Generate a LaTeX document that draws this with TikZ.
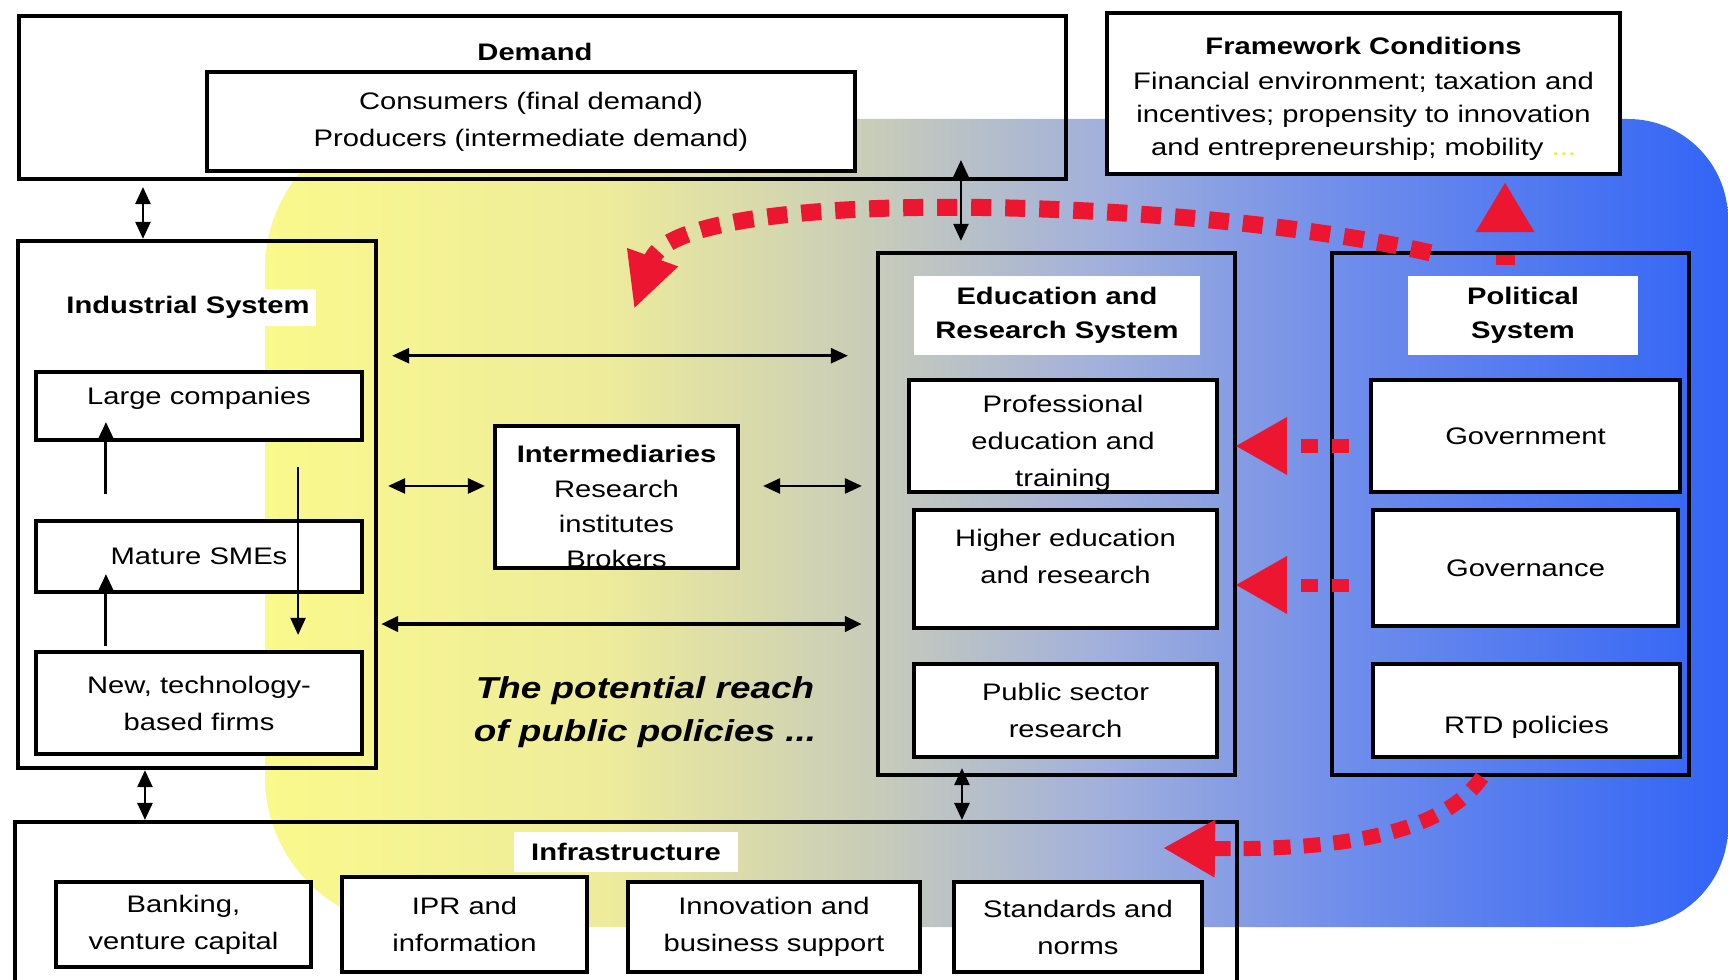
\documentclass[tikz,border=0pt]{standalone}
\usepackage{fontspec}
\setmainfont{Liberation Sans}[FakeStretch=1.22]
\usetikzlibrary{arrows.meta,calc}

\definecolor{policyred}{RGB}{236,22,48}
\definecolor{dotyellow}{RGB}{235,235,70}
\definecolor{spreadA}{RGB}{250,249,140}
\definecolor{spreadB}{RGB}{238,236,155}
\definecolor{spreadC}{RGB}{201,205,184}
\definecolor{spreadD}{RGB}{162,176,220}
\definecolor{spreadE}{RGB}{111,141,235}
\definecolor{spreadF}{RGB}{50,100,246}
\pgfdeclarehorizontalshading{spread}{100bp}{color(0bp)=(spreadA); color(25bp)=(spreadA); color(36.5bp)=(spreadB); color(45.5bp)=(spreadC); color(53.5bp)=(spreadD); color(62bp)=(spreadE); color(75bp)=(spreadF); color(100bp)=(spreadF)}

\tikzset{
  sysbox/.style={draw, line width=0.04cm, inner sep=0pt},
  itembox/.style={draw, fill=white, line width=0.04cm, inner sep=0pt, align=center},
  titlebox/.style={fill=white, inner sep=0pt, align=center, font=\bfseries\fontsize{6.8}{9.7}\selectfont},
  twoway/.style={{Triangle[length=0.17cm,width=0.15cm]}-{Triangle[length=0.17cm,width=0.15cm]}, line width=0.025cm},
  oneway/.style={-{Triangle[length=0.17cm,width=0.15cm]}, line width=0.03cm},
  policyarrow/.style={draw=policyred, line width=0.13cm, dash pattern=on 0.17cm off 0.14cm, -{Triangle[length=0.52cm,width=0.54cm]}, policyred},
}

\begin{document}
\begin{tikzpicture}[x=0.01cm, y=-0.01cm, font=\fontsize{6.8}{10.5}\selectfont]
  \useasboundingbox (0,0) rectangle (1728,980);
  \clip (0,0) rectangle (1728,980);

  % reach of public policies
  \shade[shading=spread] (265,500) [rounded corners=1.5cm] -- (265,119) [rounded corners=1cm] -- (1728,119) -- (1728,927) [rounded corners=1.5cm] -- (265,927) -- cycle;

  % demand
  \node[sysbox, minimum width=10.47cm, minimum height=1.63cm] (demand) at (542.5,97.5) {};
  \node[font=\bfseries\fontsize{6.8}{10.5}\selectfont] (demandtitle) at (535,52) {Demand};
  \node[itembox, minimum width=6.48cm, minimum height=0.99cm] (consumers) at (531,121.5) {Consumers (final demand)\\Producers (intermediate demand)};

  % framework conditions
  \node[itembox, minimum width=5.13cm, minimum height=1.61cm, font=\fontsize{6.8}{9.4}\selectfont] (framework) at (1363.5,93.5)
    {\rule{0pt}{0.28cm}\textbf{Framework Conditions}\\[0.4pt] Financial environment; taxation and\\ incentives; propensity to innovation\\ and entrepreneurship; mobility \textcolor{dotyellow}{...}};

  % industrial system
  \node[sysbox, minimum width=3.58cm, minimum height=5.27cm] (industrial) at (197,504.5) {};
  \node[titlebox, minimum width=2.56cm, minimum height=0.37cm] (indtitle) at (188,307.5) {Industrial System};
  \node[itembox, minimum width=3.26cm, minimum height=0.68cm] (large) at (199,406) {Large companies\rule[-0.2cm]{0pt}{0pt}};
  \node[itembox, minimum width=3.26cm, minimum height=0.71cm] (mature) at (199,556.5) {Mature SMEs};
  \node[itembox, minimum width=3.26cm, minimum height=1.02cm] (newfirms) at (199,703) {New, technology-\\based firms};

  % intermediaries
  \node[itembox, minimum width=2.43cm, minimum height=1.42cm, font=\fontsize{6.8}{9.9}\selectfont] (interm) at (616.5,497)
    {\rule{0pt}{0.36cm}\textbf{Intermediaries}\\Research\\institutes\\Brokers};
  \node[font=\bfseries\itshape\fontsize{8.6}{12.2}\selectfont, align=center] (reach) at (645,712) {The potential reach\\of public policies ...};

  % education and research system
  \node[sysbox, minimum width=3.57cm, minimum height=5.22cm] (education) at (1056.5,514) {};
  \node[titlebox, minimum width=2.86cm, minimum height=0.79cm] (edutitle) at (1057,315.5) {Education and\\Research System};
  \node[itembox, minimum width=3.08cm, minimum height=1.12cm] (professional) at (1063,436) {\rule{0pt}{0.32cm}Professional\\education and\\training};
  \node[itembox, minimum width=3.03cm, minimum height=1.18cm] (higher) at (1065.5,569) {Higher education\\and research\rule[-0.26cm]{0pt}{0pt}};
  \node[itembox, minimum width=3.03cm, minimum height=0.93cm] (public) at (1065.5,710.5) {Public sector\\research};

  % political system
  \node[sysbox, minimum width=3.57cm, minimum height=5.22cm] (political) at (1510.5,514) {};
  \node[titlebox, minimum width=2.30cm, minimum height=0.79cm] (poltitle) at (1523,315.5) {Political\\System};
  \node[itembox, minimum width=3.09cm, minimum height=1.12cm] (government) at (1525.5,436) {Government};
  \node[itembox, minimum width=3.05cm, minimum height=1.16cm] (governance) at (1525.5,568) {Governance};
  \node[itembox, minimum width=3.07cm, minimum height=0.93cm] (rtd) at (1526.5,710.5) {\rule{0pt}{0.5cm}RTD policies};

  % infrastructure
  \node[sysbox, minimum width=12.22cm, minimum height=1.78cm] (infra) at (626,911) {};
  \node[titlebox, minimum width=2.24cm, minimum height=0.40cm] (infratitle) at (626,852) {Infrastructure};
  \node[itembox, minimum width=2.55cm, minimum height=0.85cm] (banking) at (183.5,924.5) {Banking,\\venture capital};
  \node[itembox, minimum width=2.45cm, minimum height=0.95cm] (ipr) at (464.5,924.5) {IPR and\\information};
  \node[itembox, minimum width=2.92cm, minimum height=0.90cm] (innovation) at (774,927) {Innovation and\\business support};
  \node[itembox, minimum width=2.48cm, minimum height=0.90cm] (standards) at (1078,927) {Standards and\\norms};

  % policy influence
  \coordinate (curvetip) at (634,309);
  \coordinate (infratip) at (1163,848);
  \draw[policyarrow, line width=0.17cm, dash pattern=on 0.2cm off 0.14cm, -{Triangle[length=0.55cm,width=0.5cm]}]
    ($(political.north)+(-0.8cm,-0.02cm)$) .. controls +(-2.4cm,0.55cm) and +(0.45cm,1.25cm) .. (curvetip);
  \draw[policyarrow, line width=0.19cm, dash pattern=on 0.1cm off 0.3cm, -{Triangle[length=0.5cm,width=0.55cm]}]
    ($(political.north)+(-0.055cm,-0.14cm)$) -- ($(political.north |- framework.south)+(-0.055cm,-0.06cm)$);
  \draw[policyarrow] ($(government.west)+(-0.2cm,-0.1cm)$) -- ($(professional.east |- government.west)+(0.16cm,-0.1cm)$);
  \draw[policyarrow] ($(governance.west)+(-0.22cm,-0.17cm)$) -- ($(higher.east |- governance.west)+(0.16cm,-0.17cm)$);
  \draw[policyarrow, line width=0.15cm, dash pattern=on 0.17cm off 0.13cm]
    ($(political.south)+(-0.285cm,0)$) .. controls +(-0.42cm,-0.6cm) and +(1.67cm,-0.02cm) .. (infratip);

  % firm dynamics
  \draw[oneway] ($(newfirms.north)+(-0.93cm,0.04cm)$) -- ($(mature.south)+(-0.93cm,0.2cm)$);
  \draw[oneway] ($(mature.north)+(-0.93cm,0.25cm)$) -- ($(large.south)+(-0.93cm,0.2cm)$);
  \draw[oneway, line width=0.02cm] ($(large.south)+(0.99cm,-0.25cm)$) -- ($(newfirms.north)+(0.99cm,0.15cm)$);

  % links between systems
  \draw[twoway] ($(industrial.east |- edutitle.south)+(0.14cm,0)$) -- ($(education.west |- edutitle.south)+(-0.28cm,0)$);
  \draw[twoway] ($(industrial.east |- interm.west)+(0.1cm,0.11cm)$) -- ($(interm.west)+(-0.08cm,0.11cm)$);
  \draw[twoway] ($(interm.east)+(0.23cm,0.11cm)$) -- ($(education.west |- interm.east)+(-0.14cm,0.11cm)$);
  \draw[twoway, line width=0.04cm] ($(industrial.east |- higher.south)+(0.03cm,0.06cm)$) -- ($(education.west |- higher.south)+(-0.14cm,0.06cm)$);
  \draw[twoway] ($(industrial.north)+(-0.54cm,0)$) -- ($(industrial.north |- demand.south)+(-0.54cm,-0.06cm)$);
  \draw[twoway] ($(industrial.south)+(-0.52cm,0)$) -- ($(industrial.south |- infra.north)+(-0.52cm,0)$);
  \draw[twoway] ($(education.north)+(-0.955cm,0.1cm)$) -- ($(education.north |- demand.south)+(-0.955cm,0.21cm)$);
  \draw[twoway] ($(education.south)+(-0.945cm,0.09cm)$) -- ($(education.south |- infra.north)+(-0.945cm,0)$);
\end{tikzpicture}
\end{document}
